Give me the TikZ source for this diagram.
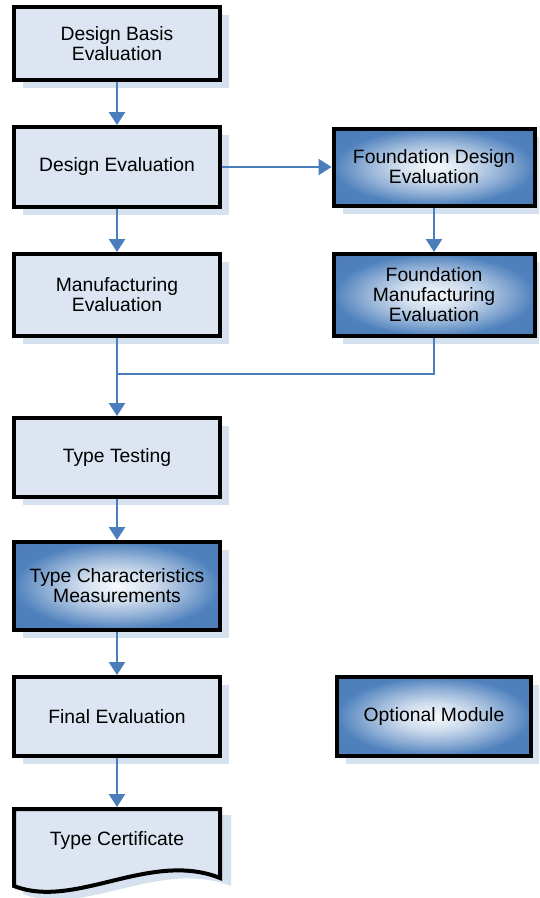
\documentclass[tikz,border=0pt]{standalone}
\usepackage{fontspec}
\setmainfont{Liberation Sans}
\usetikzlibrary{shadows,arrows.meta}
\definecolor{arrblue}{HTML}{4A7EBB}
\definecolor{lightfill}{HTML}{DCE5F1}
\definecolor{shadowfill}{HTML}{D6E1F0}
\definecolor{deepblue}{HTML}{4F81BD}
\pgfdeclareradialshading{boxglow}{\pgfpoint{0bp}{0bp}}{%
  color(0bp)=(white!96!deepblue);
  color(9bp)=(white!72!deepblue);
  color(17bp)=(white!38!deepblue);
  color(25bp)=(deepblue);
  color(50bp)=(deepblue!92!black)}
\tikzset{
  base/.style={rectangle, draw=black, line width=4pt, align=center,
    font=\fontsize{19.3}{20}\selectfont, inner sep=0pt,
    general shadow={shadow xshift=9pt, shadow yshift=-8pt, fill=shadowfill}},
  lightbox/.style={base, fill=lightfill},
  bluebox/.style={base, shading=boxglow},
  arr/.style={draw=arrblue, line width=2.6pt, -{Triangle[length=13pt,width=16pt]}},
  conn/.style={draw=arrblue, line width=2.6pt}
}
\begin{document}
\begin{tikzpicture}[x=1pt,y=-1pt]
\useasboundingbox (0,0) rectangle (539,898);
\clip (0,0) rectangle (539,898);
% left column
\node[lightbox, minimum width=206pt, minimum height=73pt] (dbe) at (117,43.5) {Design Basis\\Evaluation};
\node[lightbox, minimum width=206pt, minimum height=80pt] (de) at (117,167) {Design Evaluation};
\node[lightbox, minimum width=206pt, minimum height=82pt] (me) at (117,295) {Manufacturing\\Evaluation};
\node[lightbox, minimum width=206pt, minimum height=79pt] (tt) at (117,457.5) {Type Testing};
\node[bluebox, minimum width=206pt, minimum height=88pt] (tcm) at (117,586) {Type Characteristics\\Measurements};
\node[lightbox, minimum width=206pt, minimum height=79pt] (fe) at (117,716.5) {Final Evaluation};
% right column
\node[bluebox, minimum width=201pt, minimum height=77pt] (fde) at (434,167) {Foundation Design\\Evaluation};
\node[bluebox, minimum width=201pt, minimum height=82pt] (fme) at (434,295) {Foundation\\Manufacturing\\Evaluation};
\node[bluebox, minimum width=194pt, minimum height=79pt] (om) at (434,716.5) {Optional Module};
% type certificate (document shape)
\fill[shadowfill] (23,815) -- (231,815) -- (231,886) .. controls (159,858) and (84,918) .. (23,894) -- cycle;
\draw[line width=4pt, fill=lightfill] (14,809) -- (220,809) -- (220,878) .. controls (150,850) and (75,910) .. (14,886) -- cycle;
\node[rectangle, line width=4pt, draw=none, minimum width=206pt, minimum height=62pt,
  font=\fontsize{19.3}{20}\selectfont] (tc) at (117,840) {Type Certificate};
% connectors
\coordinate (j) at (117,374);
\draw[arr] (dbe) -- (de);
\draw[arr] (de) -- (me);
\draw[arr] (de) -- (fde);
\draw[arr] (fde) -- (fme);
\draw[conn] (fme.south) |- (j);
\draw[arr] (me) -- (tt);
\draw[arr] (tt) -- (tcm);
\draw[arr] (tcm) -- (fe);
\draw[arr] (fe) -- (tc.north);
\end{tikzpicture}
\end{document}
